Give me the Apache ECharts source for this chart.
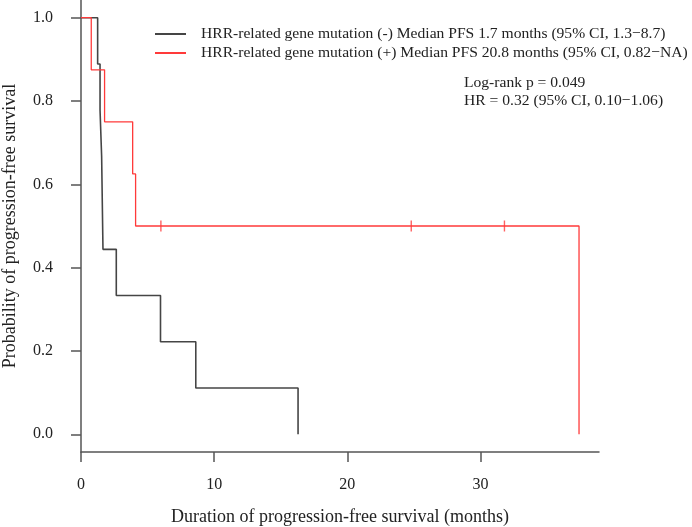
<!DOCTYPE html>
<html>
<head>
<meta charset="utf-8">
<script src="https://cdn.jsdelivr.net/npm/echarts@6/dist/echarts.min.js"></script>
<style>
  html, body { margin: 0; padding: 0; background: #fff; }
  #chart { width: 692px; height: 527px; }
</style>
</head>
<body>
<div id="chart"></div>
<script>
// Kaplan-Meier steps: [months, survival probability]
const negSteps = [[0, 1], [1.25, 0.889], [1.43, 0.778], [1.55, 0.667], [1.65, 0.444], [2.65, 0.333], [5.97, 0.222], [8.62, 0.111], [16.3, 0]]
const posSteps = [[0, 1], [0.77, 0.875], [1.77, 0.75], [3.88, 0.625], [4.1, 0.5], [37.4, 0]]
// censored observations (+) group
const posCensor = [[6.0, 0.5], [24.8, 0.5], [31.8, 0.5]]

const xTicks = [0, 10, 20, 30]
const yTicks = [0, 0.2, 0.4, 0.6, 0.8, 1.0]

const negName = 'HRR-related gene mutation (-) Median PFS 1.7 months (95% CI, 1.3\u22128.7)'
const posName = 'HRR-related gene mutation (+) Median PFS 20.8 months (95% CI, 0.82\u2212NA)'
const statLines = ['Log-rank p = 0.049', 'HR = 0.32 (95% CI, 0.10\u22121.06)']

const FONT = '"Liberation Serif", "DejaVu Serif", serif'
const TEXT = '#222'
const AXIS = '#555'
const BLACK = '#454545'
const RED = '#ff3a3a'

const chart = echarts.init(document.getElementById('chart'))
chart.setOption({
  animation: false,
  textStyle: { fontFamily: FONT },
  grid: { left: 81, right: 93, top: 0, bottom: 75, outerBoundsMode: 'none', containLabel: false },
  legend: {
    data: [negName, posName],
    orient: 'vertical',
    left: 155,
    top: 25,
    padding: 0,
    icon: 'rect',
    itemWidth: 31,
    itemHeight: 2,
    itemGap: 1,
    textStyle: { fontFamily: FONT, fontSize: 15.6, lineHeight: 18, color: TEXT, padding: [0, 0, 0, 10] },
  },
  graphic: [{
    type: 'text',
    left: 464,
    top: 74,
    style: { text: statLines.join('\n'), font: '15.6px ' + FONT, fill: TEXT, lineHeight: 18 },
  }],
  xAxis: {
    type: 'value',
    min: 0,
    max: 38.9,
    name: 'Duration of progression-free survival (months)',
    nameLocation: 'middle',
    nameGap: 56,
    nameTextStyle: { fontFamily: FONT, fontSize: 18, color: TEXT },
    axisLine: { onZero: false, lineStyle: { color: AXIS, width: 1.5 } },
    axisTick: { customValues: xTicks, length: 10, lineStyle: { color: AXIS, width: 1.5 } },
    axisLabel: { customValues: xTicks, margin: 25, fontSize: 16, color: TEXT, fontFamily: FONT },
    splitLine: { show: false },
  },
  yAxis: {
    type: 'value',
    min: -0.0425,
    max: 1.0425,
    name: 'Probability of progression-free survival',
    nameLocation: 'middle',
    nameGap: 62,
    nameTextStyle: { fontFamily: FONT, fontSize: 18, color: TEXT },
    axisLine: { onZero: false, lineStyle: { color: AXIS, width: 1.5 } },
    axisTick: { customValues: yTicks, length: 10, lineStyle: { color: AXIS, width: 1.5 } },
    axisLabel: {
      customValues: yTicks, margin: 28, fontSize: 16, color: TEXT, fontFamily: FONT,
      formatter: v => v.toFixed(1),
    },
    splitLine: { show: false },
  },
  series: [
    {
      name: negName,
      type: 'line',
      step: 'end',
      data: negSteps,
      symbol: 'none',
      lineStyle: { color: BLACK, width: 1.6 },
      itemStyle: { color: BLACK },
    },
    {
      name: posName,
      type: 'line',
      step: 'end',
      data: posSteps,
      symbol: 'none',
      lineStyle: { color: RED, width: 1.3 },
      itemStyle: { color: RED },
    },
    {
      name: 'censor',
      type: 'scatter',
      data: posCensor,
      symbol: 'rect',
      symbolSize: [1.4, 11],
      itemStyle: { color: RED },
      z: 3,
    },
  ],
})
</script>
</body>
</html>
